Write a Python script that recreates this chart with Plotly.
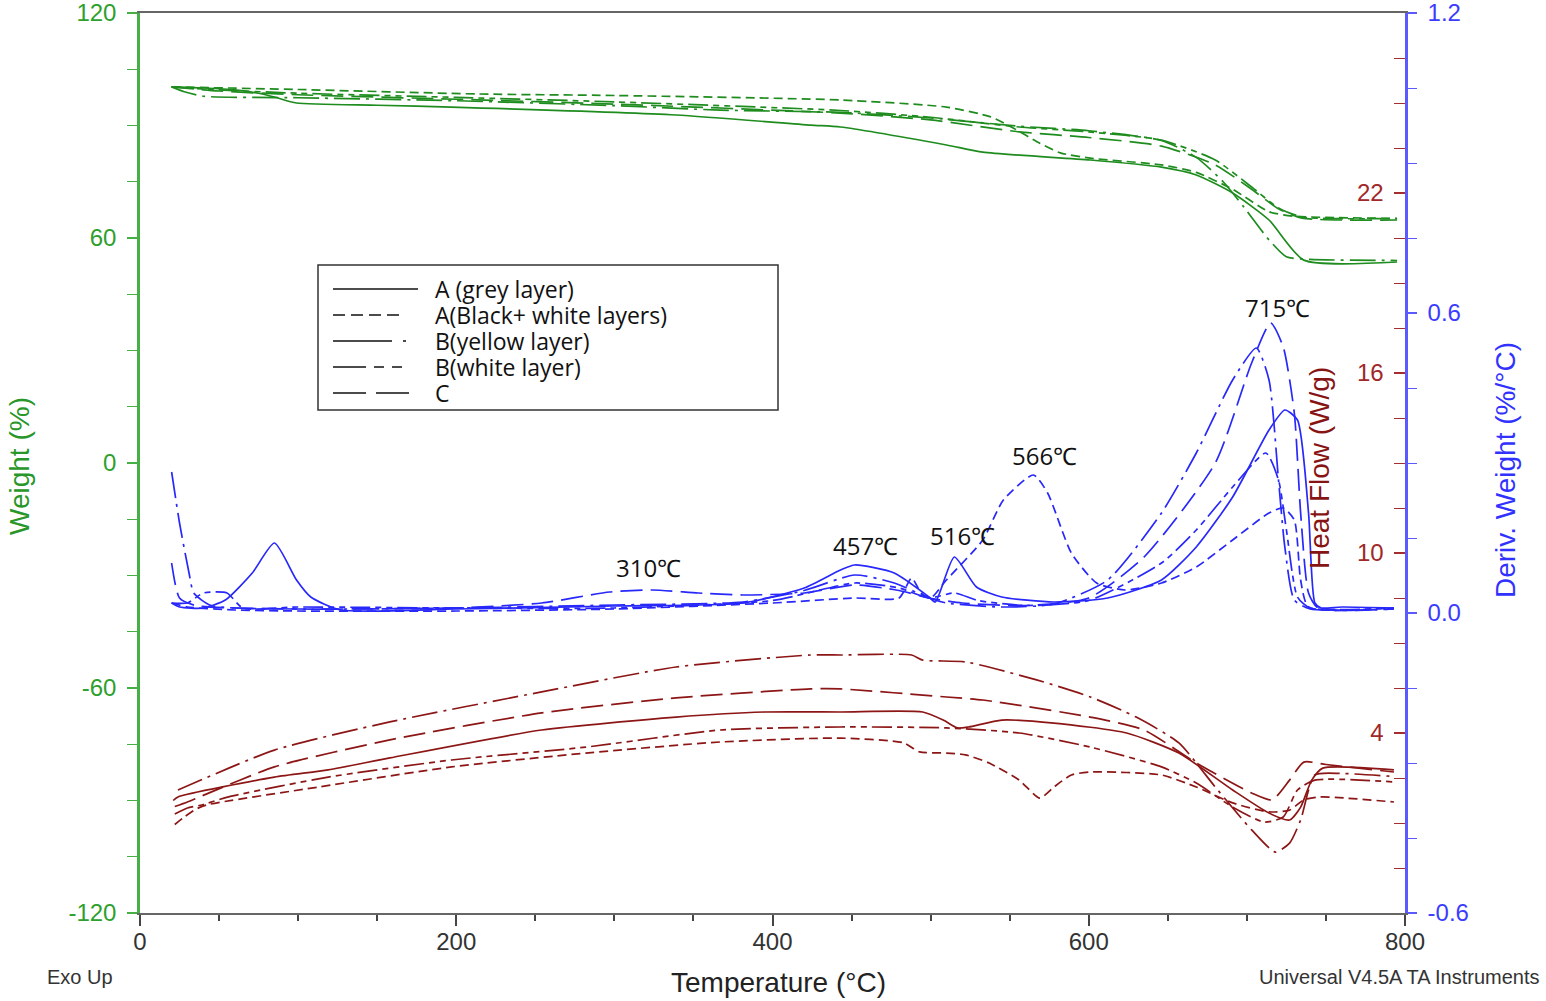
import plotly.graph_objects as go

# ---------------- data ----------------
series = ["A (grey layer)", "A(Black+ white layers)", "B(yellow layer)", "B(white layer)", "C"]

# Weight (%) vs Temperature (°C)
wT_A_grey = [20, 40, 60, 75, 85, 99, 150, 197, 339, 424, 443, 510, 533, 601, 646, 668, 691, 714, 736, 795]
wV_A_grey = [100.3, 100.0, 99.5, 98.6, 97.6, 96.0, 95.4, 94.9, 92.8, 90.1, 89.6, 84.8, 82.9, 80.8, 78.9, 76.8, 72.0, 64.8, 54.1, 53.6]
wT_A_bw = [20, 100, 214, 300, 443, 510, 538, 551, 569, 582, 601, 646, 668, 691, 714, 730, 750, 795]
wV_A_bw = [100.3, 99.6, 98.4, 98.0, 96.8, 94.9, 92.3, 89.6, 85.3, 82.7, 81.3, 79.5, 77.5, 73.0, 67.0, 65.8, 65.5, 65.2]
wT_B_yellow = [20, 28, 40, 100, 200, 300, 367, 443, 500, 556, 600, 646, 668, 685, 698, 714, 725, 740, 795]
wV_B_yellow = [100.3, 99.0, 97.8, 97.4, 96.6, 95.3, 94.1, 93.5, 92.0, 89.8, 88.6, 86.0, 81.5, 75.0, 68.3, 59.5, 55.0, 54.3, 54.0]
wT_B_white = [20, 50, 100, 200, 300, 443, 500, 556, 600, 646, 680, 703, 720, 735, 795]
wV_B_white = [100.3, 99.5, 98.6, 97.5, 96.3, 94.0, 92.2, 89.6, 88.3, 86.1, 80.8, 73.6, 68.0, 65.6, 65.2]
wT_C = [20, 50, 100, 200, 300, 443, 500, 556, 600, 646, 680, 703, 720, 735, 795]
wV_C = [100.3, 99.2, 98.2, 97.0, 95.7, 93.3, 91.5, 88.3, 86.8, 84.5, 79.5, 73.0, 67.8, 65.3, 64.8]

# Deriv. Weight (%/°C)
dT_A_grey = [20, 25, 40, 54, 71, 85, 99, 108, 127, 200, 300, 381, 420, 443, 452, 477, 499, 503, 515, 529, 545, 578, 612, 646, 668, 691, 714, 724, 732, 739, 743, 747, 760, 793]
dV_A_grey = [0.02, 0.012, 0.01, 0.026, 0.08, 0.14, 0.066, 0.032, 0.006, 0.008, 0.014, 0.02, 0.05, 0.086, 0.096, 0.08, 0.032, 0.022, 0.112, 0.052, 0.032, 0.022, 0.03, 0.066, 0.132, 0.232, 0.366, 0.406, 0.386, 0.2, 0.02, 0.01, 0.012, 0.01]
dT_A_bw = [20, 30, 60, 100, 200, 300, 400, 452, 480, 488, 494, 500, 510, 533, 546, 565, 574, 589, 605, 623, 646, 668, 691, 714, 723, 730, 734, 739, 793]
dV_A_bw = [0.02, 0.012, 0.006, 0.004, 0.004, 0.008, 0.02, 0.03, 0.03, 0.07, 0.04, 0.03, 0.066, 0.146, 0.226, 0.276, 0.24, 0.12, 0.06, 0.046, 0.06, 0.092, 0.146, 0.2, 0.21, 0.186, 0.066, 0.012, 0.01]
dT_B_yellow = [20, 25, 31, 34, 45, 100, 200, 300, 381, 420, 452, 477, 499, 510, 545, 578, 612, 646, 668, 691, 706, 714, 720, 724, 730, 740, 793]
dV_B_yellow = [0.282, 0.18, 0.08, 0.04, 0.015, 0.008, 0.01, 0.016, 0.022, 0.045, 0.076, 0.06, 0.03, 0.02, 0.012, 0.018, 0.066, 0.2, 0.32, 0.466, 0.53, 0.466, 0.266, 0.132, 0.026, 0.008, 0.008]
dT_B_white = [20, 30, 40, 55, 65, 100, 200, 300, 400, 452, 480, 499, 515, 530, 560, 600, 646, 668, 691, 712, 720, 725, 732, 740, 793]
dV_B_white = [0.02, 0.02, 0.04, 0.04, 0.01, 0.012, 0.01, 0.01, 0.025, 0.06, 0.05, 0.03, 0.04, 0.025, 0.015, 0.025, 0.1, 0.166, 0.252, 0.32, 0.266, 0.166, 0.032, 0.01, 0.01]
dT_C = [20, 25, 35, 60, 100, 200, 254, 297, 324, 353, 381, 420, 452, 480, 499, 520, 560, 600, 635, 680, 703, 715, 723, 730, 734, 739, 745, 793]
dV_C = [0.1, 0.03, 0.015, 0.01, 0.008, 0.01, 0.02, 0.042, 0.046, 0.04, 0.036, 0.04, 0.056, 0.045, 0.03, 0.02, 0.015, 0.03, 0.112, 0.3, 0.5, 0.58, 0.532, 0.4, 0.2, 0.04, 0.01, 0.008]

# Heat Flow (W/g)
hT_A_grey = [21, 24, 85, 119, 158, 254, 339, 395, 443, 495, 508, 517, 524, 545, 578, 624, 657, 691, 714, 727, 734, 741, 748, 793]
hV_A_grey = [1.75, 1.87, 2.53, 2.77, 3.17, 4.1, 4.53, 4.7, 4.7, 4.7, 4.43, 4.17, 4.2, 4.43, 4.33, 4.0, 3.33, 2.1, 1.33, 1.1, 1.53, 2.43, 2.83, 2.77]
hT_A_bw = [22, 28, 35, 42, 113, 197, 282, 367, 443, 483, 493, 510, 522, 537, 556, 569, 578, 589, 601, 646, 668, 691, 714, 727, 736, 746, 793]
hV_A_bw = [0.95, 1.2, 1.45, 1.6, 2.2, 2.87, 3.33, 3.7, 3.83, 3.67, 3.37, 3.33, 3.27, 3.0, 2.43, 1.83, 2.2, 2.6, 2.7, 2.6, 2.2, 1.67, 1.37, 1.43, 1.77, 1.87, 1.7]
hT_B_yellow = [24, 85, 158, 254, 339, 424, 443, 488, 495, 522, 567, 601, 630, 657, 680, 703, 718, 727, 734, 743, 760, 793]
hV_B_yellow = [2.1, 3.43, 4.37, 5.37, 6.2, 6.6, 6.6, 6.6, 6.43, 6.37, 5.77, 5.2, 4.53, 3.67, 2.2, 0.77, 0.03, 0.33, 1.1, 2.6, 2.65, 2.55]
hT_B_white = [22, 30, 39, 56, 119, 197, 282, 367, 443, 510, 556, 601, 646, 668, 691, 711, 723, 732, 743, 793]
hV_B_white = [1.3, 1.5, 1.6, 1.87, 2.53, 3.1, 3.53, 4.1, 4.2, 4.17, 4.0, 3.53, 2.87, 2.33, 1.53, 1.03, 1.2, 2.1, 2.43, 2.37]
hT_C = [22, 30, 39, 85, 158, 254, 339, 424, 443, 510, 533, 601, 635, 668, 703, 716, 727, 736, 750, 793]
hV_C = [1.55, 1.7, 1.9, 2.87, 3.77, 4.67, 5.17, 5.47, 5.47, 5.2, 5.1, 4.53, 4.1, 3.0, 2.0, 1.77, 2.43, 3.03, 2.95, 2.7]

peak_labels = ["310℃", "457℃", "516℃", "566℃", "715℃"]

# tick labels
x_ticks = [0, 200, 400, 600, 800]
w_ticks = [-120, -60, 0, 60, 120]
w_ticktext = ["-120", "-60", "0", "60", "120"]
d_ticks = [-0.6, 0.0, 0.6, 1.2]
d_ticktext = ["-0.6", "0.0", "0.6", "1.2"]
h_ticks = [4, 10, 16, 22]
h_ticktext = ["\u20074", "10", "16", "22"]

# ---------------- styles ----------------
GREEN = "rgb(30,140,30)"
GREEN_AX = "rgb(70,175,70)"
BLUE = "rgb(40,40,250)"
BLUE_AX = "rgb(90,90,255)"
RED = "rgb(140,22,22)"
RED_AX = "rgb(165,45,45)"
DASH = ["solid", "9px,5px", "26px,6px,3px,6px", "20px,5px,6px,5px,6px,5px", "22px,8px"]
LW = 1.7

fig = go.Figure()

weight = [(wT_A_grey, wV_A_grey), (wT_A_bw, wV_A_bw), (wT_B_yellow, wV_B_yellow), (wT_B_white, wV_B_white), (wT_C, wV_C)]
deriv = [(dT_A_grey, dV_A_grey), (dT_A_bw, dV_A_bw), (dT_B_yellow, dV_B_yellow), (dT_B_white, dV_B_white), (dT_C, dV_C)]
heat = [(hT_A_grey, hV_A_grey), (hT_A_bw, hV_A_bw), (hT_B_yellow, hV_B_yellow), (hT_B_white, hV_B_white), (hT_C, hV_C)]

for i, name in enumerate(series):
    t, v = heat[i]
    fig.add_trace(go.Scatter(x=t, y=v, yaxis="y3", mode="lines", name=name, showlegend=False,
                             line=dict(color=RED, width=LW, dash=DASH[i], shape="spline", smoothing=0.6)))
for i, name in enumerate(series):
    t, v = deriv[i]
    fig.add_trace(go.Scatter(x=t, y=v, yaxis="y2", mode="lines", name=name, showlegend=False,
                             line=dict(color=BLUE, width=LW, dash=DASH[i], shape="spline", smoothing=0.6)))
for i, name in enumerate(series):
    t, v = weight[i]
    fig.add_trace(go.Scatter(x=t, y=v, yaxis="y", mode="lines", name=name, showlegend=False,
                             line=dict(color=GREEN, width=LW, dash=DASH[i], shape="spline", smoothing=0.6)))

TICKFONT = dict(family="Liberation Sans", size=24)

fig.update_layout(
    width=1546, height=1001, autosize=False,
    margin=dict(l=140, r=141, t=13, b=88, autoexpand=False),
    paper_bgcolor="white", plot_bgcolor="white",
    showlegend=False,
    xaxis=dict(range=[0, 800], tickmode="array", tickvals=x_ticks, automargin=False,
               ticks="outside", ticklen=11, tickwidth=1.5, tickcolor="#444",
               showline=True, linecolor="#666", linewidth=2, mirror=True,
               showgrid=False, zeroline=False, ticklabelstandoff=-5, ticklabeloverflow="allow",
               tickfont=dict(TICKFONT, color="#333"),
               minor=dict(tickmode="array", tickvals=[50 * k for k in range(17)],
                          ticks="outside", ticklen=6, tickwidth=1.5, tickcolor="#444")),
    yaxis=dict(range=[-120, 120], tickmode="array", tickvals=w_ticks, ticktext=w_ticktext, automargin=False,
               ticks="outside", ticklen=10, tickwidth=1.5, tickcolor=GREEN_AX,
               showline=True, linecolor=GREEN_AX, linewidth=2.5,
               showgrid=False, zeroline=False, ticklabelstandoff=6, ticklabeloverflow="allow",
               tickfont=dict(TICKFONT, color="rgb(45,160,45)"),
               minor=dict(tickmode="array", tickvals=[-120 + 15 * k for k in range(17)],
                          ticks="outside", ticklen=10, tickwidth=1.2, tickcolor=GREEN_AX)),
    yaxis2=dict(range=[-0.6, 1.2], overlaying="y", side="right", anchor="x", automargin=False,
                tickmode="array", tickvals=d_ticks, ticktext=d_ticktext,
                ticks="outside", ticklen=9, tickwidth=1.5, tickcolor=BLUE_AX,
                showline=True, linecolor=BLUE_AX, linewidth=2.5,
                showgrid=False, zeroline=False, ticklabelstandoff=6, ticklabeloverflow="allow",
                tickfont=dict(TICKFONT, color="rgb(60,60,255)"),
                minor=dict(tickmode="array", tickvals=[-0.6 + 0.15 * k for k in range(13)],
                           ticks="outside", ticklen=9, tickwidth=1.2, tickcolor=BLUE_AX)),
    yaxis3=dict(range=[-2, 28], overlaying="y", side="right", anchor="x", automargin=False,
                tickmode="array", tickvals=h_ticks, ticktext=h_ticktext,
                ticks="inside", ticklen=11, tickwidth=1.5, tickcolor=RED_AX,
                ticklabelposition="outside", ticklabelstandoff=-49, ticklabeloverflow="allow",
                showline=False, showgrid=False, zeroline=False,
                tickfont=dict(TICKFONT, color="rgb(160,40,40)"),
                minor=dict(tickmode="array", tickvals=[-2 + 1.5 * k for k in range(21)],
                           ticks="inside", ticklen=11, tickwidth=1.2, tickcolor=RED_AX)),
)

PW, PH, L, T0 = 1265.0, 900.0, 140.0, 13.0
def px(xp):
    return (xp - L) / PW
def py(yp):
    return (T0 + PH - yp) / PH

ann = []
def text(s, x, y, size, color, family="Liberation Sans", angle=0, xanchor="center"):
    ann.append(dict(text=s, x=px(x), y=py(y), xref="paper", yref="paper", showarrow=False,
                    xanchor=xanchor, yanchor="middle", textangle=angle,
                    font=dict(family=family, size=size, color=color)))

text("Weight (%)", 19, 466, 28, "rgb(40,150,40)", angle=-90)
text("Deriv. Weight (%/°C)", 1505, 470, 28, "rgb(50,50,255)", angle=-90)
text("Heat Flow (W/g)", 1319, 468, 28, "rgb(135,20,20)", angle=-90)
text("Temperature (°C)", 778, 982, 28, "#222")
text("Exo Up", 80, 977, 20, "#333")
text("Universal V4.5A TA Instruments", 1399, 977, 20, "#333")

peak_pos = [(648, 567), (865, 545), (962, 535), (1044, 455), (1277, 308)]
for s, (x, y) in zip(peak_labels, peak_pos):
    text(s, x, y, 24, "#111", family="Open Sans")

# legend (drawn box with key lines)
shapes = [dict(type="rect", xref="paper", yref="paper", x0=px(318), x1=px(778), y0=py(410), y1=py(265),
               line=dict(color="#333", width=1.5), fillcolor="rgba(255,255,255,0)")]
LEG_DASH = ["solid", "12px,6px", "59px,11px,3px,40px", "33px,8px,10px,8px,10px,40px", "33px,10px,33px,40px"]
LEG_END = [418, 400, 408, 404, 409]
rows = [289, 315, 341, 367, 393]
for i, name in enumerate(series):
    shapes.append(dict(type="line", xref="paper", yref="paper", x0=px(333), x1=px(LEG_END[i]),
                       y0=py(rows[i]), y1=py(rows[i]), line=dict(color="#111", width=1.5, dash=LEG_DASH[i])))
    text(name, 433, rows[i], 23, "#111", family="Open Sans", xanchor="left")

fig.update_layout(annotations=ann, shapes=shapes)
fig.write_html("out.html", config={"displayModeBar": False},
               post_script="document.body.style.margin='0px';")
